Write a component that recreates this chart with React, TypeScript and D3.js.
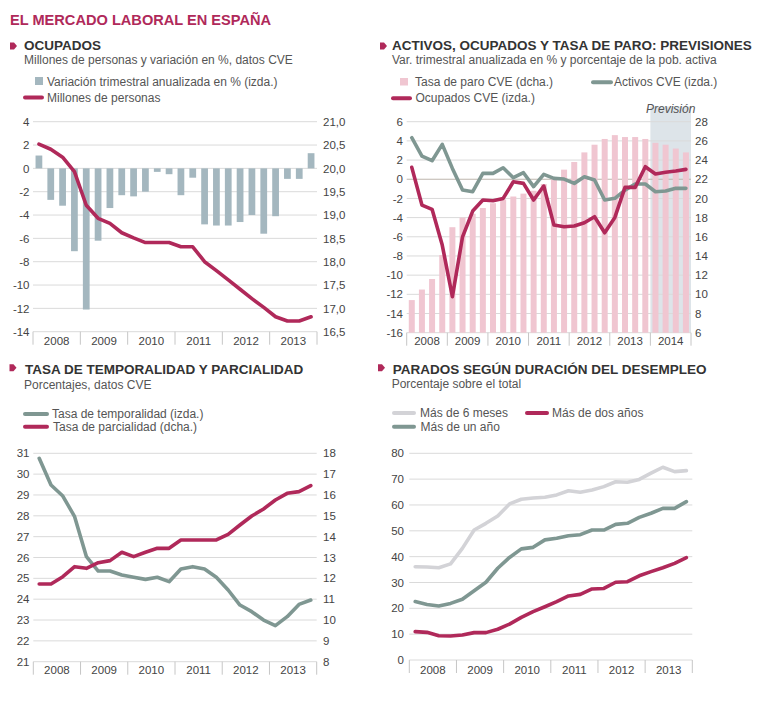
import React from 'react';
import * as d3 from 'd3';

// ---------- DATA ----------
const years6 = ['2008', '2009', '2010', '2011', '2012', '2013'];
const years7 = ['2008', '2009', '2010', '2011', '2012', '2013', '2014'];

// Panel 1: Ocupados
const ocupadosVar = [1.1, -2.7, -3.2, -7.1, -12.1, -6.2, -3.4, -2.3, -2.4, -2.0, -0.3, -0.5, -2.3, -0.8, -4.8, -4.9, -4.9, -4.6, -4.0, -5.6, -4.1, -0.9, -0.9, 1.3];
const ocupadosMill = [20.52, 20.41, 20.24, 19.93, 19.21, 18.93, 18.82, 18.62, 18.51, 18.41, 18.41, 18.41, 18.32, 18.32, 18.0, 17.81, 17.61, 17.41, 17.21, 17.02, 16.82, 16.73, 16.73, 16.82];
const p1LeftTicks = [4, 2, 0, -2, -4, -6, -8, -10, -12, -14];
const p1RightTicks = [21.0, 20.5, 20.0, 19.5, 19.0, 18.5, 18.0, 17.5, 17.0, 16.5];

// Panel 2: Activos, ocupados y tasa de paro
const tasaParo = [9.4, 10.5, 11.6, 14.1, 17.0, 18.0, 18.4, 19.0, 19.5, 19.9, 20.2, 20.5, 20.8, 21.5, 22.0, 23.0, 23.8, 24.8, 25.6, 26.2, 26.6, 26.4, 26.4, 26.2, 25.8, 25.6, 25.2, 24.8];
const activosCVE = [4.33, 2.42, 1.93, 3.64, 1.13, -1.13, -1.3, 0.61, 0.61, 1.2, 0.16, 0.68, -0.77, 0.51, 0.09, 0.02, -0.43, 0.26, -0.08, -2.17, -1.99, -1.13, -0.5, -0.5, -1.3, -1.23, -0.95, -0.95];
const ocupadosCVE = [1.24, -2.69, -3.14, -6.86, -12.25, -6.0, -3.32, -2.17, -2.24, -2.0, -0.26, -0.43, -2.17, -0.71, -4.78, -4.95, -4.88, -4.53, -3.91, -5.58, -3.98, -0.85, -0.85, 1.31, 0.54, 0.72, 0.86, 1.03];
const p2LeftTicks = [6, 4, 2, 0, -2, -4, -6, -8, -10, -12, -14, -16];
const p2RightTicks = [28, 26, 24, 22, 20, 18, 16, 14, 12, 10, 8, 6];

// Panel 3: Temporalidad y parcialidad
const temporalidad = [30.76, 29.48, 28.95, 27.96, 26.04, 25.35, 25.35, 25.16, 25.05, 24.95, 25.05, 24.84, 25.45, 25.56, 25.45, 25.05, 24.44, 23.72, 23.4, 23.0, 22.73, 23.16, 23.75, 23.96];
const parcialidad = [11.73, 11.73, 12.08, 12.56, 12.48, 12.75, 12.85, 13.25, 13.04, 13.25, 13.44, 13.44, 13.84, 13.84, 13.84, 13.84, 14.11, 14.56, 14.99, 15.33, 15.76, 16.08, 16.16, 16.45];
const p3LeftTicks = [31, 30, 29, 28, 27, 26, 25, 24, 23, 22, 21];
const p3RightTicks = [18, 17, 16, 15, 14, 13, 12, 11, 10, 9, 8];

// Panel 4: Parados según duración
const mas6meses = [36.1, 36.0, 35.7, 37.2, 43.2, 50.3, 52.9, 55.7, 60.4, 62.2, 62.7, 63.0, 63.9, 65.5, 64.9, 65.8, 67.1, 69.0, 68.8, 69.9, 72.3, 74.6, 72.9, 73.3];
const masUnAno = [22.6, 21.5, 20.9, 21.9, 23.5, 26.8, 30.1, 35.5, 39.7, 43.0, 43.6, 46.5, 47.1, 48.1, 48.5, 50.3, 50.3, 52.5, 52.9, 55.2, 56.8, 58.7, 58.7, 61.3];
const masDosAnos = [11.0, 10.7, 9.4, 9.3, 9.7, 10.6, 10.6, 11.9, 13.9, 16.5, 18.7, 20.6, 22.6, 24.8, 25.4, 27.5, 27.7, 30.1, 30.3, 32.6, 34.2, 35.7, 37.4, 39.6];
const p4Ticks = [80, 70, 60, 50, 40, 30, 20, 10, 0];

// ---------- STYLE ----------
const FONT = '"Liberation Sans", Arial, Helvetica, sans-serif';
const CRIMSON = '#b0295a';
const GRAYGREEN = '#7f9792';
const LIGHTGRAY = '#d3d3d7';
const BARBLUE = '#a4b7bf';
const PINK = '#f0c6d1';
const SHADE = '#dde4e9';
const GRID = '#dadada';
const TICKTXT = '#444';
const TITLETXT = '#333';
const SUBTXT = '#555';
const LW = 3.6;

const fmtComma = (v: number) => d3.format('.1f')(v).replace('.', ',');

function Marker({ x, y }: { x: number; y: number }) {
  const pts = [[x, y], [x + 4, y], [x + 7, y + 3.5], [x + 4, y + 7], [x, y + 7]].map(p => p.join(',')).join(' ');
  return <polygon points={pts} fill={CRIMSON} />;
}

function YearAxis({ years, x0, x1, yBot, labelY }: { years: string[]; x0: number; x1: number; yBot: number; labelY: number }) {
  const ys = d3.scaleBand<string>().domain(years).range([x0, x1]);
  return (
    <g>
      {d3.range(years.length + 1).map(i => {
        const x = x0 + i * ys.step();
        return <line key={'t' + i} x1={x} x2={x} y1={yBot} y2={yBot + 13} stroke="#c6c6c6" strokeWidth={1} />;
      })}
      {years.map(y => (
        <text key={y} x={(ys(y) as number) + ys.bandwidth() / 2} y={labelY} textAnchor="middle" fontSize={11.5} fill={TICKTXT}>{y}</text>
      ))}
    </g>
  );
}

function Grid({ ticks, scale, x0, x1, zeroColor }: { ticks: number[]; scale: d3.ScaleLinear<number, number>; x0: number; x1: number; zeroColor?: string }) {
  return (
    <g>
      {ticks.map(t => (
        <line key={t} x1={x0} x2={x1} y1={scale(t)} y2={scale(t)} stroke={t === 0 && zeroColor ? zeroColor : GRID} strokeWidth={1} />
      ))}
    </g>
  );
}

function TickLabels({ ticks, scale, x, anchor, fmt }: { ticks: number[]; scale: d3.ScaleLinear<number, number>; x: number; anchor: string; fmt?: (v: number) => string }) {
  return (
    <g>
      {ticks.map(t => (
        <text key={t} x={x} y={scale(t)} dy="0.36em" textAnchor={anchor as any} fontSize={11.5} fill={TICKTXT}>{fmt ? fmt(t) : String(t)}</text>
      ))}
    </g>
  );
}

function LegendLine({ x, y, w, color }: { x: number; y: number; w: number; color: string }) {
  return <line x1={x + 2} x2={x + w - 2} y1={y} y2={y} stroke={color} strokeWidth={4} strokeLinecap="round" />;
}

export default function App() {
  // ---------- Panel 1 ----------
  const p1 = { x0: 33, x1: 317, top: 121.7, bot: 331.7 };
  const p1L = d3.scaleLinear().domain([-14, 4]).range([p1.bot, p1.top]);
  const p1R = d3.scaleLinear().domain([16.5, 21]).range([p1.bot, p1.top]);
  const p1X = d3.scaleBand<number>().domain(d3.range(ocupadosVar.length)).range([p1.x0, p1.x1]).paddingInner(0.43).paddingOuter(0.215);
  const p1c = (i: number) => (p1X(i) as number) + p1X.bandwidth() / 2;
  const p1Line = d3.line<number>().x((d, i) => p1c(i)).y(d => p1R(d));

  // ---------- Panel 2 ----------
  const p2 = { x0: 406.7, x1: 691, top: 121.7, bot: 332.7 };
  const p2L = d3.scaleLinear().domain([-16, 6]).range([p2.bot, p2.top]);
  const p2R = d3.scaleLinear().domain([6, 28]).range([p2.bot, p2.top]);
  const p2X = d3.scaleBand<number>().domain(d3.range(tasaParo.length)).range([p2.x0, p2.x1]).paddingInner(0.41).paddingOuter(0.205);
  const p2c = (i: number) => (p2X(i) as number) + p2X.bandwidth() / 2;
  const p2Line = d3.line<number>().x((d, i) => p2c(i)).y(d => p2L(d));
  const p2Years = d3.scaleBand<string>().domain(years7).range([p2.x0, p2.x1]);

  // ---------- Panel 3 ----------
  const p3 = { x0: 33.3, x1: 316.7, top: 453.3, bot: 661.7 };
  const p3L = d3.scaleLinear().domain([21, 31]).range([p3.bot, p3.top]);
  const p3R = d3.scaleLinear().domain([8, 18]).range([p3.bot, p3.top]);
  const p3X = d3.scaleBand<number>().domain(d3.range(temporalidad.length)).range([p3.x0, p3.x1]);
  const p3c = (i: number) => (p3X(i) as number) + p3X.bandwidth() / 2;
  const p3LineL = d3.line<number>().x((d, i) => p3c(i)).y(d => p3L(d));
  const p3LineR = d3.line<number>().x((d, i) => p3c(i)).y(d => p3R(d));

  // ---------- Panel 4 ----------
  const p4 = { x0: 409.3, x1: 692.3, top: 453.3, bot: 660 };
  const p4Y = d3.scaleLinear().domain([0, 80]).range([p4.bot, p4.top]);
  const p4X = d3.scaleBand<number>().domain(d3.range(mas6meses.length)).range([p4.x0, p4.x1]);
  const p4c = (i: number) => (p4X(i) as number) + p4X.bandwidth() / 2;
  const p4Line = d3.line<number>().x((d, i) => p4c(i)).y(d => p4Y(d));

  const lineProps = { fill: 'none', strokeWidth: LW, strokeLinejoin: 'round' as const, strokeLinecap: 'round' as const };

  return (
    <svg width={766} height={708} style={{ position: 'absolute', left: 0, top: 0, background: '#fff' }} fontFamily={FONT}>
      <rect x={0} y={0} width={766} height={708} fill="#fff" />
      {/* Main title */}
      <text x={10} y={25} fontSize={14.6} fontWeight="bold" fill={CRIMSON}>EL MERCADO LABORAL EN ESPAÑA</text>

      {/* ===== Panel 1 ===== */}
      <Marker x={10} y={42.5} />
      <text x={24} y={50} fontSize={13.5} fontWeight="bold" fill={TITLETXT}>OCUPADOS</text>
      <text x={24} y={63.5} fontSize={12} fill={SUBTXT}>Millones de personas y variación en %, datos CVE</text>
      <rect x={35} y={77} width={8} height={8} fill={BARBLUE} />
      <text x={47} y={85.5} fontSize={12} fill={SUBTXT}>Variación trimestral anualizada en % (izda.)</text>
      <LegendLine x={23} y={97.6} w={21} color={CRIMSON} />
      <text x={47} y={101.8} fontSize={12} fill={SUBTXT}>Millones de personas</text>

      <Grid ticks={p1LeftTicks} scale={p1L} x0={p1.x0} x1={p1.x1} />
      {ocupadosVar.map((v, i) => (
        <rect key={i} x={p1X(i)} width={p1X.bandwidth()} y={Math.min(p1L(0), p1L(v))} height={Math.abs(p1L(v) - p1L(0))} fill={BARBLUE} />
      ))}
      <path d={p1Line(ocupadosMill) || ''} stroke={CRIMSON} {...lineProps} />
      <TickLabels ticks={p1LeftTicks} scale={p1L} x={29.5} anchor="end" />
      <TickLabels ticks={p1RightTicks} scale={p1R} x={323} anchor="start" fmt={fmtComma} />
      <YearAxis years={years6} x0={p1.x0} x1={p1.x1} yBot={p1.bot} labelY={345} />

      {/* ===== Panel 2 ===== */}
      <Marker x={380} y={42.5} />
      <text x={392} y={50} fontSize={13.5} fontWeight="bold" fill={TITLETXT}>ACTIVOS, OCUPADOS Y TASA DE PARO: PREVISIONES</text>
      <text x={392} y={63.5} fontSize={12} fill={SUBTXT}>Var. trimestral anualizada en % y porcentaje de la pob. activa</text>
      <rect x={400} y={78} width={8} height={7.5} fill={PINK} />
      <text x={415} y={86} fontSize={12} fill={SUBTXT}>Tasa de paro CVE (dcha.)</text>
      <LegendLine x={591} y={82.3} w={22} color={GRAYGREEN} />
      <text x={614} y={86} fontSize={12} fill={SUBTXT}>Activos CVE (izda.)</text>
      <LegendLine x={391} y={98.3} w={21} color={CRIMSON} />
      <text x={415.5} y={102.2} fontSize={12} fill={SUBTXT}>Ocupados CVE (izda.)</text>

      <rect x={p2Years('2014')} y={106.5} width={p2Years.bandwidth()} height={p2.bot - 106.5} fill={SHADE} />
      <text x={(p2Years('2014') as number) + p2Years.bandwidth() / 2} y={113} textAnchor="middle" fontSize={12} fontStyle="italic" fill={SUBTXT}>Previsión</text>
      <Grid ticks={p2LeftTicks} scale={p2L} x0={p2.x0} x1={p2.x1} zeroColor="#bdb5ad" />
      {tasaParo.map((v, i) => (
        <rect key={i} x={p2X(i)} width={p2X.bandwidth()} y={p2R(v)} height={p2R(6) - p2R(v)} fill={PINK} />
      ))}
      <path d={p2Line(activosCVE) || ''} stroke={GRAYGREEN} {...lineProps} />
      <path d={p2Line(ocupadosCVE) || ''} stroke={CRIMSON} {...lineProps} />
      <TickLabels ticks={p2LeftTicks} scale={p2L} x={403} anchor="end" />
      <TickLabels ticks={p2RightTicks} scale={p2R} x={695} anchor="start" />
      <YearAxis years={years7} x0={p2.x0} x1={p2.x1} yBot={p2.bot} labelY={345} />

      {/* ===== Panel 3 ===== */}
      <Marker x={9.5} y={364.3} />
      <text x={25} y={374.3} fontSize={13.5} fontWeight="bold" fill={TITLETXT}>TASA DE TEMPORALIDAD Y PARCIALIDAD</text>
      <text x={24} y={388.5} fontSize={12} fill={SUBTXT}>Porcentajes, datos CVE</text>
      <LegendLine x={23} y={414} w={26} color={GRAYGREEN} />
      <text x={52} y={418.2} fontSize={12} fill={SUBTXT}>Tasa de temporalidad (izda.)</text>
      <LegendLine x={23} y={426.7} w={26} color={CRIMSON} />
      <text x={53} y={431} fontSize={12} fill={SUBTXT}>Tasa de parcialidad (dcha.)</text>

      <Grid ticks={p3LeftTicks} scale={p3L} x0={p3.x0} x1={p3.x1} />
      <path d={p3LineL(temporalidad) || ''} stroke={GRAYGREEN} {...lineProps} />
      <path d={p3LineR(parcialidad) || ''} stroke={CRIMSON} {...lineProps} />
      <TickLabels ticks={p3LeftTicks} scale={p3L} x={29.5} anchor="end" />
      <TickLabels ticks={p3RightTicks} scale={p3R} x={323} anchor="start" />
      <YearAxis years={years6} x0={p3.x0} x1={p3.x1} yBot={p3.bot} labelY={674} />

      {/* ===== Panel 4 ===== */}
      <Marker x={378} y={364.3} />
      <text x={392.7} y={374.3} fontSize={13.5} fontWeight="bold" fill={TITLETXT}>PARADOS SEGÚN DURACIÓN DEL DESEMPLEO</text>
      <text x={391.7} y={388} fontSize={12} fill={SUBTXT}>Porcentaje sobre el total</text>
      <LegendLine x={392} y={413} w={24} color={LIGHTGRAY} />
      <text x={420} y={417.2} fontSize={12} fill={SUBTXT}>Más de 6 meses</text>
      <LegendLine x={525} y={413} w={24} color={CRIMSON} />
      <text x={552} y={417.2} fontSize={12} fill={SUBTXT}>Más de dos años</text>
      <LegendLine x={392} y={426.7} w={24} color={GRAYGREEN} />
      <text x={420.5} y={431} fontSize={12} fill={SUBTXT}>Más de un año</text>

      <Grid ticks={p4Ticks} scale={p4Y} x0={p4.x0} x1={p4.x1} />
      <path d={p4Line(mas6meses) || ''} stroke={LIGHTGRAY} {...lineProps} />
      <path d={p4Line(masUnAno) || ''} stroke={GRAYGREEN} {...lineProps} />
      <path d={p4Line(masDosAnos) || ''} stroke={CRIMSON} {...lineProps} />
      <TickLabels ticks={p4Ticks} scale={p4Y} x={404} anchor="end" />
      <YearAxis years={years6} x0={p4.x0} x1={p4.x1} yBot={p4.bot} labelY={674} />
    </svg>
  );
}
